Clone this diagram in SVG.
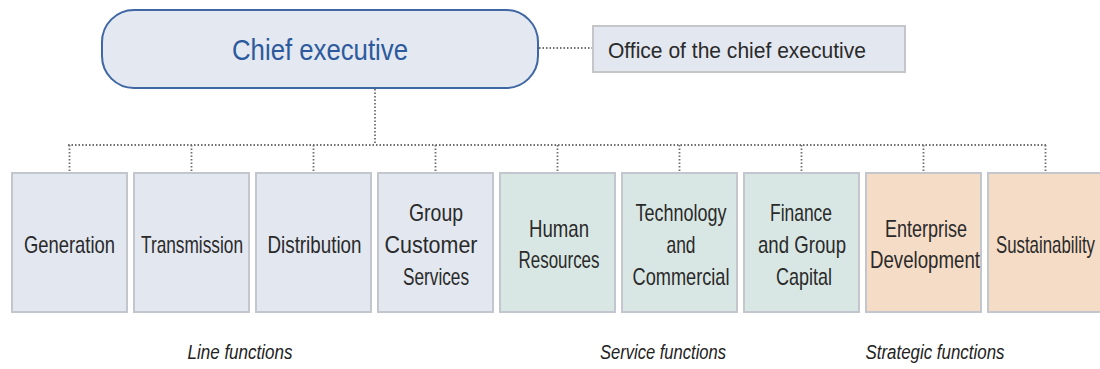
<svg xmlns="http://www.w3.org/2000/svg" width="1100" height="369" viewBox="0 0 1100 369">
<style>
.box{stroke:#c3c6cc;stroke-width:2}
.blue{fill:#e2e7f0}
.green{fill:#d9e7e4}
.peach{fill:#f5dcc7}
.t{font-family:"Liberation Sans",Arial,sans-serif;font-size:24px;fill:#2a2a2a;text-anchor:middle}
.lab{font-family:"Liberation Sans",Arial,sans-serif;font-size:20px;font-style:italic;fill:#222;text-anchor:middle}
.dot{stroke:#6e6e6e;stroke-width:1.8;stroke-dasharray:1.5 2;fill:none}
</style>
<rect width="1100" height="369" fill="#ffffff"/>
<g id="connectors">
<line class="dot" x1="539" y1="48" x2="593" y2="48"/>
<line class="dot" x1="375" y1="89" x2="375" y2="145"/>
<line class="dot" x1="68" y1="145" x2="1046" y2="145"/>
<line class="dot" x1="69.5" y1="145" x2="69.5" y2="172"/>
<line class="dot" x1="191.5" y1="145" x2="191.5" y2="172"/>
<line class="dot" x1="313.5" y1="145" x2="313.5" y2="172"/>
<line class="dot" x1="435.5" y1="145" x2="435.5" y2="172"/>
<line class="dot" x1="557.5" y1="145" x2="557.5" y2="172"/>
<line class="dot" x1="679.5" y1="145" x2="679.5" y2="172"/>
<line class="dot" x1="801.5" y1="145" x2="801.5" y2="172"/>
<line class="dot" x1="923.5" y1="145" x2="923.5" y2="172"/>
<line class="dot" x1="1045.5" y1="145" x2="1045.5" y2="172"/>
</g>
<g id="chief">
<rect x="102" y="10" width="436" height="78" rx="32" ry="32" fill="#e3e8f1" stroke="#3f67a3" stroke-width="2"/>
<text x="320" y="60" font-family="Liberation Sans,Arial,sans-serif" font-size="30" fill="#2c5a9c" text-anchor="middle" textLength="176" lengthAdjust="spacingAndGlyphs">Chief executive</text>
</g>
<g id="office">
<rect x="593" y="26" width="312" height="46" fill="#e3e8f0" stroke="#c4c6ca" stroke-width="2"/>
<text x="608" y="58" font-family="Liberation Sans,Arial,sans-serif" font-size="22" fill="#2a2a2a" textLength="258" lengthAdjust="spacingAndGlyphs">Office of the chief executive</text>
</g>
<g id="generation">
<rect class="box blue" x="12" y="173" width="115" height="139"/>
<text class="t" x="69.5" y="253" textLength="91" lengthAdjust="spacingAndGlyphs">Generation</text>
</g>
<g id="transmission">
<rect class="box blue" x="134" y="173" width="115" height="139"/>
<text class="t" x="192" y="253" textLength="102" lengthAdjust="spacingAndGlyphs">Transmission</text>
</g>
<g id="distribution">
<rect class="box blue" x="256" y="173" width="115" height="139"/>
<text class="t" x="314.5" y="253" textLength="94" lengthAdjust="spacingAndGlyphs">Distribution</text>
</g>
<g id="gcs">
<rect class="box blue" x="378" y="173" width="115" height="139"/>
<text class="t" x="436" y="221" textLength="54" lengthAdjust="spacingAndGlyphs">Group</text>
<text class="t" x="431" y="253" textLength="93" lengthAdjust="spacingAndGlyphs">Customer</text>
<text class="t" x="436" y="285" textLength="66" lengthAdjust="spacingAndGlyphs">Services</text>
</g>
<g id="hr">
<rect class="box green" x="500" y="173" width="115" height="139"/>
<text class="t" x="559" y="237" textLength="60" lengthAdjust="spacingAndGlyphs">Human</text>
<text class="t" x="559" y="268" textLength="81" lengthAdjust="spacingAndGlyphs">Resources</text>
</g>
<g id="tech">
<rect class="box green" x="622" y="173" width="115" height="139"/>
<text class="t" x="681" y="221" textLength="91" lengthAdjust="spacingAndGlyphs">Technology</text>
<text class="t" x="681" y="253" textLength="29" lengthAdjust="spacingAndGlyphs">and</text>
<text class="t" x="681" y="285" textLength="97" lengthAdjust="spacingAndGlyphs">Commercial</text>
</g>
<g id="finance">
<rect class="box green" x="744" y="173" width="115" height="139"/>
<text class="t" x="801" y="221" textLength="62" lengthAdjust="spacingAndGlyphs">Finance</text>
<text class="t" x="802" y="253" textLength="88" lengthAdjust="spacingAndGlyphs">and Group</text>
<text class="t" x="804" y="285" textLength="56" lengthAdjust="spacingAndGlyphs">Capital</text>
</g>
<g id="enterprise">
<rect class="box peach" x="866" y="173" width="115" height="139"/>
<text class="t" x="926" y="237" textLength="82" lengthAdjust="spacingAndGlyphs">Enterprise</text>
<text class="t" x="925" y="268" textLength="110" lengthAdjust="spacingAndGlyphs">Development</text>
</g>
<g id="sustainability">
<rect class="box peach" x="988" y="173" width="118" height="139"/>
<text class="t" x="1045.5" y="253" textLength="99" lengthAdjust="spacingAndGlyphs">Sustainability</text>
</g>
<g id="labels">
<text class="lab" x="240" y="359" textLength="105" lengthAdjust="spacingAndGlyphs">Line functions</text>
<text class="lab" x="663" y="359" textLength="126" lengthAdjust="spacingAndGlyphs">Service functions</text>
<text class="lab" x="935" y="359" textLength="139" lengthAdjust="spacingAndGlyphs">Strategic functions</text>
</g>
</svg>
